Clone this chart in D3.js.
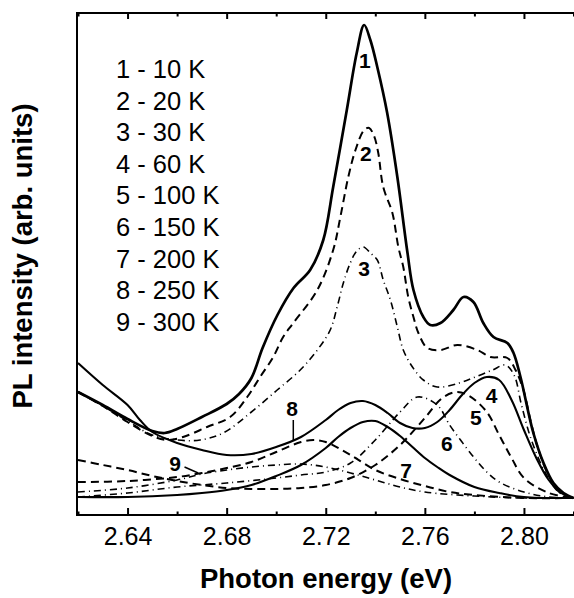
<!DOCTYPE html>
<html><head><meta charset="utf-8">
<script src="https://cdn.jsdelivr.net/npm/d3@7"></script>
<style>
html,body{margin:0;padding:0;background:#fff;}
svg text{font-family:"Liberation Sans",Arial,Helvetica,sans-serif;}
</style></head>
<body><svg id="chart" width="574" height="598"></svg>
<script>
// Data: [photon energy (eV), PL intensity (arb. units)]
const curve1 = [[2.620,106],[2.630,93],[2.640,79],[2.650,67],[2.655,65],[2.660,69],[2.670,81],[2.680,94],[2.685,104],[2.690,120],[2.6945,150],[2.7005,183],[2.707,210],[2.7137,228],[2.719,258],[2.723,311],[2.7285,388],[2.7325,445],[2.7355,473],[2.738,458],[2.7408,431],[2.7448,385],[2.7489,321],[2.753,245],[2.7554,208],[2.7594,181],[2.7622,173],[2.7663,175],[2.7715,188],[2.7756,201],[2.7796,196],[2.7836,175],[2.7877,161],[2.7933,155],[2.7958,145],[2.7986,121],[2.8038,65],[2.8079,35],[2.8119,15],[2.816,5],[2.820,0]];
const curve2 = [[2.620,106],[2.630,92],[2.640,76],[2.650,62],[2.656,58],[2.6624,61],[2.6721,71],[2.6814,81],[2.6883,101],[2.6935,121],[2.6988,141],[2.7028,161],[2.7069,175],[2.7166,208],[2.723,248],[2.7259,281],[2.7291,321],[2.732,348],[2.7355,368],[2.7375,370],[2.7395,362],[2.7412,345],[2.7432,311],[2.7469,285],[2.7493,251],[2.7513,231],[2.7533,201],[2.7554,181],[2.7574,165],[2.761,150],[2.7663,148],[2.7731,153],[2.7812,148],[2.7865,141],[2.7933,140],[2.7966,128],[2.7998,108],[2.8026,78],[2.8055,51],[2.8095,25],[2.8147,5],[2.820,0]];
const curve3 = [[2.620,106],[2.630,92],[2.640,77],[2.650,63],[2.660,58],[2.6693,58],[2.6786,65],[2.6895,85],[2.7004,108],[2.7097,128],[2.7166,148],[2.7218,168],[2.7246,191],[2.7271,215],[2.7299,235],[2.7325,247],[2.7352,251],[2.738,245],[2.7408,238],[2.7432,218],[2.7461,198],[2.7489,171],[2.7513,148],[2.755,131],[2.7594,118],[2.765,111],[2.7739,115],[2.7804,121],[2.7873,128],[2.7925,133],[2.796,123],[2.799,93],[2.803,58],[2.8087,25],[2.814,6],[2.820,0]];
const curve4 = [[2.620,135],[2.630,113],[2.640,93],[2.645,78],[2.650,66],[2.660,55],[2.670,48],[2.680,43],[2.690,44],[2.700,51],[2.710,61],[2.720,78],[2.725,88],[2.730,95],[2.735,97],[2.740,93],[2.745,85],[2.750,75],[2.755,70],[2.760,70],[2.765,76],[2.770,88],[2.775,103],[2.780,115],[2.785,121],[2.790,118],[2.795,98],[2.800,68],[2.805,40],[2.810,18],[2.815,5],[2.820,0]];
const curve5 = [[2.620,38],[2.630,33],[2.640,28],[2.650,22],[2.660,17],[2.670,13],[2.680,10],[2.690,9],[2.700,9],[2.710,10],[2.720,13],[2.730,20],[2.740,33],[2.750,53],[2.760,80],[2.767,100],[2.773,106],[2.778,102],[2.785,86],[2.790,63],[2.795,40],[2.800,20],[2.810,5],[2.820,0]];
const curve6 = [[2.620,1],[2.640,5],[2.660,11],[2.680,15],[2.700,20],[2.710,23],[2.720,26],[2.730,35],[2.740,58],[2.750,86],[2.757,101],[2.765,93],[2.770,73],[2.775,56],[2.780,40],[2.785,26],[2.790,16],[2.800,6],[2.810,1],[2.820,0]];
const curve7 = [[2.620,1],[2.640,1],[2.660,3],[2.670,5],[2.680,8],[2.690,13],[2.700,22],[2.710,33],[2.720,50],[2.725,61],[2.730,70],[2.735,76],[2.740,77],[2.745,71],[2.750,62],[2.755,51],[2.760,40],[2.765,31],[2.770,23],[2.780,11],[2.790,5],[2.800,1],[2.820,0]];
const curve8 = [[2.620,16],[2.640,17],[2.660,21],[2.670,25],[2.680,30],[2.690,36],[2.700,46],[2.710,56],[2.715,58],[2.720,56],[2.730,43],[2.740,28],[2.750,19],[2.760,12],[2.770,6],[2.780,3],[2.800,0],[2.820,0]];
const curve9 = [[2.620,6],[2.640,10],[2.660,18],[2.670,24],[2.680,28],[2.690,31],[2.700,33],[2.710,34],[2.720,31],[2.730,25],[2.740,18],[2.750,11],[2.760,6],[2.780,2],[2.800,0],[2.820,0]];

const legendLabels = ["1 - 10 K","2 - 20 K","3 - 30 K","4 - 60 K","5 - 100 K","6 - 150 K","7 - 200 K","8 - 250 K","9 - 300 K"];
const curveNumbers = ["1","2","3","4","5","6","7","8","9"];
const xMajorTicks = [2.64, 2.68, 2.72, 2.76, 2.80];
const xMinorTicks = [2.62, 2.66, 2.70, 2.74, 2.78, 2.82];

(function(){
const series = [curve1,curve2,curve3,curve4,curve5,curve6,curve7,curve8,curve9];
const styles = [
  {dash:null, w:2.7},
  {dash:"8,5", w:2},
  {dash:"7,4,1,4", w:1.6},
  {dash:null, w:2.1},
  {dash:"8,5", w:2},
  {dash:"7,4,1,4", w:1.6},
  {dash:null, w:2.1},
  {dash:"8,5", w:2},
  {dash:"7,4,1,4", w:1.6}
];
const labelPos = [[2.7358,438],[2.7362,345],[2.7355,230],[2.7869,103],[2.7806,81],[2.7689,55],[2.7524,28],[2.7064,90],[2.6592,35]];

const svg = d3.select("#chart");
const pl = 77, pr = 578, pt = 13, pb = 515;
const x = d3.scaleLinear().domain([2.62, 2.82]).range([78, 573.5]);
const y = d3.scaleLinear().domain([0, 485]).range([498, 13]);

svg.append("rect").attr("x", pl).attr("y", pt).attr("width", pr-pl).attr("height", pb-pt)
  .attr("fill","none").attr("stroke","#000").attr("stroke-width",2);

const line = d3.line().x(d=>x(d[0])).y(d=>y(d[1])).curve(d3.curveCatmullRom.alpha(0.5));
series.forEach((s,i)=>{
  svg.append("path").datum(s).attr("d", line).attr("fill","none")
    .attr("stroke","#000").attr("stroke-width", styles[i].w)
    .attr("stroke-dasharray", styles[i].dash).attr("stroke-linejoin","round");
});

const fmt = d3.format(".2f");
const gB = svg.append("g").attr("transform",`translate(0,${pb})`)
  .call(d3.axisBottom(x).tickValues(xMajorTicks).tickFormat(fmt).tickSizeInner(-7).tickSizeOuter(0).tickPadding(12));
gB.select(".domain").remove();
gB.selectAll("line").attr("stroke-width",2);
gB.selectAll("text").attr("font-size",25).attr("fill","#000");
const gBm = svg.append("g").attr("transform",`translate(0,${pb})`)
  .call(d3.axisBottom(x).tickValues(xMinorTicks).tickFormat("").tickSizeInner(-3.5).tickSizeOuter(0));
gBm.select(".domain").remove();
gBm.selectAll("line").attr("stroke-width",2);
const gT = svg.append("g").attr("transform",`translate(0,${pt})`)
  .call(d3.axisTop(x).tickValues(xMajorTicks).tickFormat("").tickSizeInner(-6).tickSizeOuter(0));
gT.select(".domain").remove();
gT.selectAll("line").attr("stroke-width",2);
const gTm = svg.append("g").attr("transform",`translate(0,${pt})`)
  .call(d3.axisTop(x).tickValues(xMinorTicks).tickFormat("").tickSizeInner(-3.5).tickSizeOuter(0));
gTm.select(".domain").remove();
gTm.selectAll("line").attr("stroke-width",2);

svg.append("text").attr("x",326).attr("y",588).attr("text-anchor","middle")
  .attr("font-size",27.5).attr("font-weight","bold").text("Photon energy (eV)");
svg.append("text").attr("transform","translate(32,256) rotate(-90)").attr("text-anchor","middle")
  .attr("font-size",27.5).attr("font-weight","bold").text("PL intensity (arb. units)");

legendLabels.forEach((t,i)=>{
  svg.append("text").attr("x",116).attr("y",78 + i*31.6).attr("font-size",25.5).text(t);
});

curveNumbers.forEach((t,i)=>{
  svg.append("text").attr("x",x(labelPos[i][0])).attr("y",y(labelPos[i][1])).attr("text-anchor","middle")
    .attr("dy","0.36em").attr("font-size",21).attr("font-weight","bold").text(t);
});
svg.append("line").attr("x1",x(2.7069)).attr("x2",x(2.7069)).attr("y1",y(78)).attr("y2",y(58)).attr("stroke","#000").attr("stroke-width",1.5);
svg.append("line").attr("x1",x(2.6630)).attr("x2",x(2.6685)).attr("y1",y(31)).attr("y2",y(25)).attr("stroke","#000").attr("stroke-width",1.5);
})();
</script></body></html>
